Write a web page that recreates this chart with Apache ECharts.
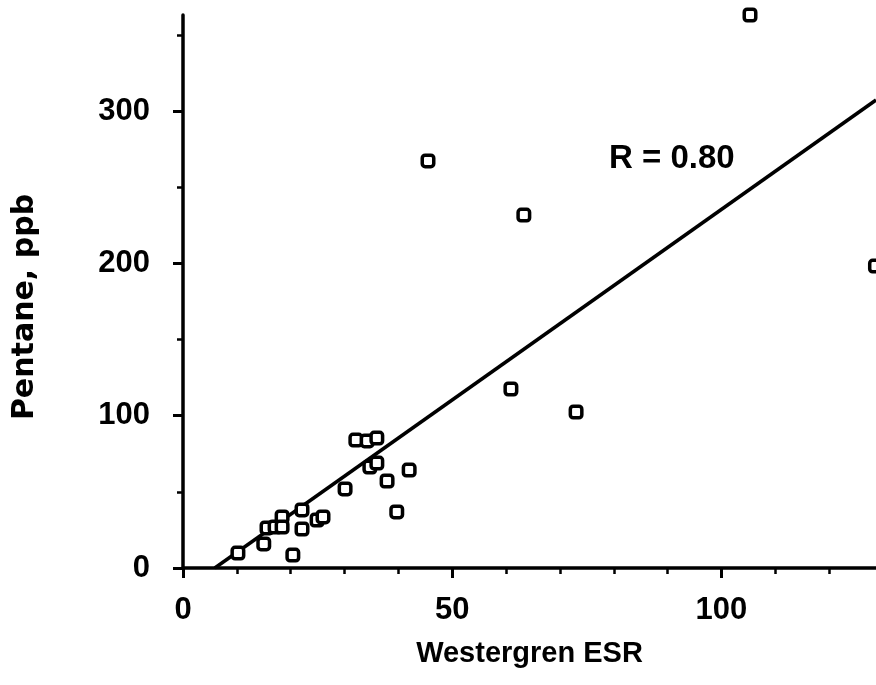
<!DOCTYPE html>
<html>
<head>
<meta charset="utf-8">
<script src="https://cdn.jsdelivr.net/npm/echarts@6.0.0/dist/echarts.min.js"></script>
<style>
  html, body { margin: 0; padding: 0; background: #fff; }
  #chart { width: 876px; height: 685px; }
</style>
</head>
<body>
<div id="chart"></div>
<script>
// Westergren ESR (x) vs Pentane, ppb (y)
const esr = [105.3, 45.5, 63.3, 128.6, 60.9, 73.0,
  10.2, 15.0, 15.6, 17.1, 18.4, 18.4, 20.4, 22.1, 22.1, 24.9, 26.0,
  30.1, 32.1, 34.2, 36.0, 34.7, 36.0, 37.9, 39.7, 42.0];
const pentane = [363, 267.2, 231.7, 198.2, 117.5, 102.4,
  9.8, 15.8, 26.3, 26.9, 33.5, 26.9, 8.5, 38.1, 25.6, 31.5, 33.5,
  51.9, 84.0, 83.4, 85.3, 66.3, 68.9, 57.1, 36.8, 64.3];

// Regression line endpoints
const fitX = [5.9, 128.7];
const fitY = [0, 307.2];

// Ticks
const xMajor = [0, 50, 100];
const xMinor = [10, 20, 30, 40, 60, 70, 80, 90, 110, 120];
const yMajor = [0, 100, 200, 300];
const yMinor = [50, 150, 250, 350];

const rLabel = 'R = 0.80';

const points = esr.map((x, i) => [x, pentane[i]]);
const fitLine = fitX.map((x, i) => [x, fitY[i]]);

const xMax = 128.7, yMax = 363;
const labelFont = { fontSize: 31, fontWeight: 'bold', fontFamily: '"Liberation Sans", Arial, sans-serif', color: '#000' };

const chart = echarts.init(document.getElementById('chart'), null, { renderer: 'canvas' });
chart.setOption({
  backgroundColor: '#fff',
  animation: false,
  grid: { left: 183, right: 0, top: 15, bottom: 117, containLabel: false },
  xAxis: [
    {
      type: 'value', min: 0, max: xMax, position: 'bottom',
      axisLine: { show: true, onZero: false, lineStyle: { color: '#000', width: 3.5 } },
      axisTick: { show: true, customValues: xMajor, length: 10, lineStyle: { color: '#000', width: 3 } },
      axisLabel: Object.assign({ customValues: xMajor, margin: 27 }, labelFont),
      splitLine: { show: false },
      name: 'Westergren ESR', nameLocation: 'middle', nameGap: 71,
      nameTextStyle: { fontSize: 29, fontWeight: 'bold', fontFamily: '"Liberation Sans", Arial, sans-serif', color: '#000' }
    },
    {
      type: 'value', min: 0, max: xMax, position: 'bottom',
      axisLine: { show: false, onZero: false },
      axisTick: { show: true, customValues: xMinor, length: 6, lineStyle: { color: '#000', width: 2.5 } },
      axisLabel: { show: false },
      splitLine: { show: false }
    }
  ],
  yAxis: [
    {
      type: 'value', min: 0, max: yMax, position: 'left',
      axisLine: { show: true, onZero: false, lineStyle: { color: '#000', width: 3.5 } },
      axisTick: { show: true, customValues: yMajor, length: 10, lineStyle: { color: '#000', width: 3 } },
      axisLabel: Object.assign({ customValues: yMajor, margin: 33 }, labelFont),
      splitLine: { show: false }
    },
    {
      type: 'value', min: 0, max: yMax, position: 'left',
      axisLine: { show: false, onZero: false },
      axisTick: { show: true, customValues: yMinor, length: 6, lineStyle: { color: '#000', width: 2.5 } },
      axisLabel: { show: false },
      splitLine: { show: false }
    }
  ],
  graphic: [
    {
      type: 'text', x: 25, y: 307, rotation: Math.PI / 2,
      style: {
        text: 'Pentane, ppb', fontSize: 30, fontWeight: 'bold',
        fontFamily: '"DejaVu Sans", sans-serif', fill: '#000',
        align: 'center', verticalAlign: 'middle', textAlign: 'center', textVerticalAlign: 'middle'
      }
    },
    {
      type: 'text', x: 609, y: 159,
      style: {
        text: rLabel, fontSize: 33, fontWeight: 'bold',
        fontFamily: '"Liberation Sans", Arial, sans-serif', fill: '#000',
        align: 'left', verticalAlign: 'middle', textAlign: 'left', textVerticalAlign: 'middle'
      }
    }
  ],
  series: [
    {
      type: 'line', xAxisIndex: 0, yAxisIndex: 0,
      data: fitLine, showSymbol: false, symbol: 'none',
      lineStyle: { color: '#000', width: 3.5 }, z: 2, silent: true
    },
    {
      type: 'scatter', xAxisIndex: 0, yAxisIndex: 0,
      data: points, symbol: 'roundRect', symbolSize: 11.5,
      itemStyle: { color: '#fff', borderColor: '#000', borderWidth: 3.5, opacity: 1 },
      z: 3
    }
  ]
});
</script>
</body>
</html>
